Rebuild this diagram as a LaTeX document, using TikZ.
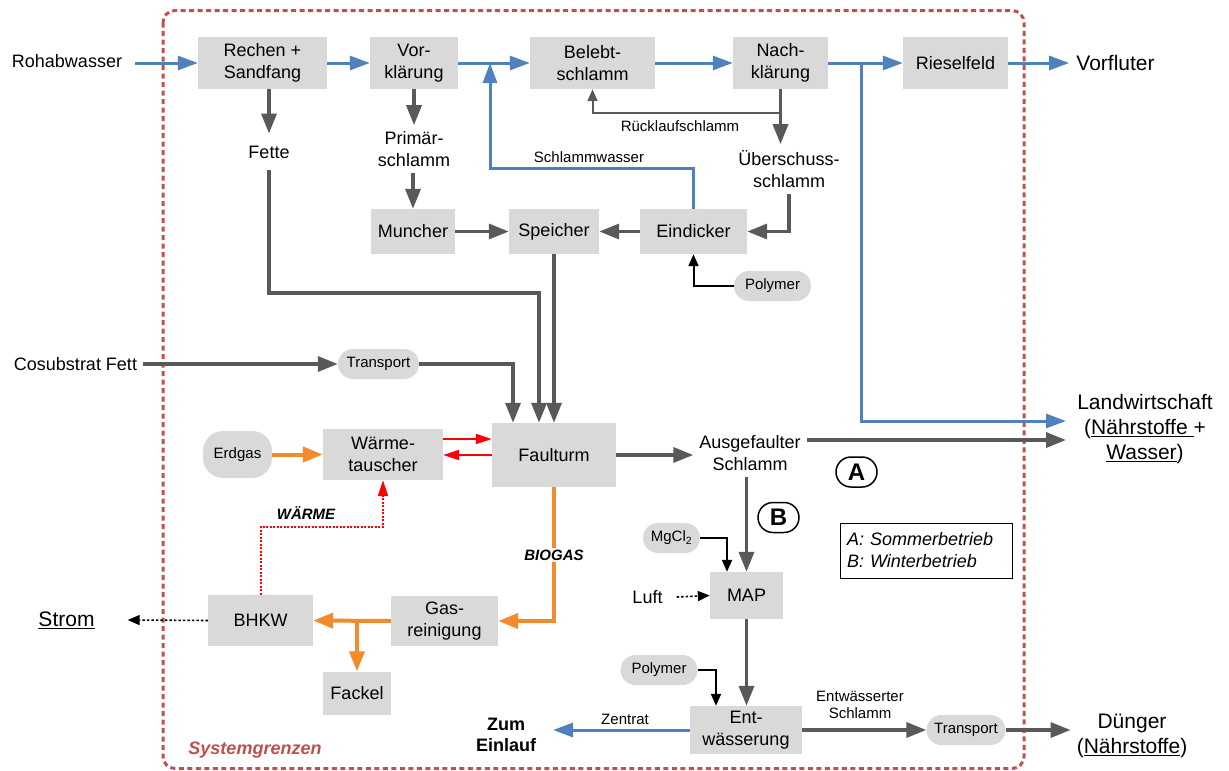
\documentclass[tikz,border=0pt]{standalone}
\usepackage{fontspec}
\setmainfont{Liberation Sans}
\usetikzlibrary{arrows.meta}
\definecolor{boxgray}{HTML}{D9D9D9}
\definecolor{blueline}{HTML}{4F81BD}
\definecolor{grayline}{HTML}{595959}
\definecolor{orangeline}{RGB}{243,139,44}
\definecolor{sysred}{HTML}{C0504D}
\newcommand{\fsz}[2]{\fontsize{#1}{#2}\selectfont}
\begin{document}
\begin{tikzpicture}[x=1pt,y=-1pt,
  box/.style={fill=boxgray, inner sep=0pt, align=center, font=\fsz{18}{22}},
  pill/.style={fill=boxgray, inner sep=0pt, align=center, rounded corners=15pt, minimum height=30pt, font=\fsz{15}{18}},
  wh/.style 2 args={minimum width=#1, minimum height=#2},
  lbl/.style={align=center, inner sep=6pt, font=\fsz{18}{22}},
  big/.style={align=center, inner sep=7pt, font=\fsz{21}{25}},
  small/.style={align=center, inner sep=3pt, font=\fsz{15}{16.5}},
  tag/.style={inner sep=2pt, font=\bfseries\itshape\fsz{15}{18}},
  blueA/.style={draw=blueline, line width=3pt, -{Triangle[length=20pt,width=14pt]}},
  grayA/.style={draw=grayline, line width=3.5pt, -{Triangle[length=20pt,width=15pt]}},
  orA/.style={draw=orangeline, line width=4pt, -{Triangle[length=20pt,width=15pt]}},
  thinA/.style={draw=black, line width=2pt, -{Triangle[length=12pt,width=10pt]}},
  rueckA/.style={draw=grayline, line width=2pt, -{Triangle[length=12pt,width=10pt]}},
  dotA/.style={draw=black, line width=1.6pt, dash pattern=on 2.5pt off 2pt, -{Triangle[length=12pt,width=10pt]}},
  redA/.style={draw=red, line width=2pt, -{Triangle[length=16pt,width=10pt]}},
  circ/.style={draw, line width=1.5pt, rounded corners=15pt, minimum width=41pt, minimum height=30pt, inner sep=0pt, font=\bfseries\fsz{24}{24}}
]
\useasboundingbox (0,0) rectangle (1229,771);

% system boundary
\draw[draw=sysred, line width=3pt, dash pattern=on 5pt off 3.5pt, rounded corners=12pt] (163,10.5) rectangle (1024,768.5);

% process boxes
\node[box, wh={129pt}{52pt}] (rech) at (262.5,63) {Rechen +\\Sandfang};
\node[box, wh={88pt}{52pt}] (vork) at (414,63) {Vor-\\klärung};
\node[box, wh={125pt}{52pt}] (bel) at (592.5,63) {Belebt-\\schlamm};
\node[box, wh={95pt}{52pt}] (nach) at (780.5,63) {Nach-\\klärung};
\node[box, wh={105pt}{52pt}] (ries) at (955.5,63) {Rieselfeld};
\node[box, wh={84pt}{45pt}] (munch) at (413,231.5) {Muncher};
\node[box, wh={90pt}{45pt}] (speich) at (554,231.5) {Speicher};
\node[box, wh={107pt}{45pt}] (eind) at (693.5,231.5) {Eindicker};
\node[box, wh={124pt}{64pt}] (faul) at (554,455) {Faulturm};
\node[box, wh={120pt}{51pt}] (waerm) at (383,454.5) {Wärme-\\tauscher};
\node[box, wh={105pt}{51pt}] (bhkw) at (260.5,620.5) {BHKW};
\node[box, wh={107pt}{50pt}] (gasr) at (444.5,621) {Gas-\\reinigung};
\node[box, wh={68pt}{43pt}] (fack) at (357,693) {Fackel};
\node[box, wh={73pt}{47pt}] (map) at (746.5,595.5) {MAP};
\node[box, wh={112pt}{48pt}] (entw) at (746,730) {Ent-\\wässerung};

% pills
\node[pill, minimum width=77pt] (poly1) at (772.5,286) {Polymer};
\node[pill, minimum width=81pt] (trans1) at (378.5,364) {Transport};
\node[pill, minimum width=69pt, minimum height=47pt, rounded corners=20pt] (erdgas) at (237.5,454.5) {Erdgas};
\node[pill, minimum width=57pt] (mgcl) at (671.5,538) {MgCl\textsubscript{2}};
\node[pill, minimum width=77pt] (poly2) at (659,670) {Polymer};
\node[pill, minimum width=79pt] (trans2) at (966,730) {Transport};

% text labels
\node[lbl] (rohab) at (67,61) {Rohabwasser};
\node[lbl] (fette) at (269,152) {Fette};
\node[lbl] (prim) at (414,149) {Primär-\\schlamm};
\node[lbl] (ueber) at (789,169) {Überschuss-\\schlamm};
\node[lbl] (cosub) at (75.5,364) {Cosubstrat Fett};
\node[lbl] (ausgef) at (750,453) {Ausgefaulter\\Schlamm};
\node[lbl] (luft) at (647.5,597) {Luft};
\node[big] (vorfl) at (1115.5,63) {Vorfluter};
\node[big] (landw) at (1145,429) {Landwirtschaft\\(\underline{Nährstoffe\ }+\\\underline{Wasser})};
\node[big, inner sep=6pt] (duenger) at (1132,736) {Dünger\\(\underline{Nährstoffe})};
\node[big] (strom) at (66.5,620) {\underline{Strom}};
\node[align=center, inner sep=4pt, font=\bfseries\fsz{18}{21}] (zum) at (506,735) {Zum\\Einlauf};
\node[inner sep=2pt, text=sysred, font=\bfseries\itshape\fsz{18}{20}] (sysg) at (255,750) {Systemgrenzen};
\node[small] (rueckl) at (680,126) {Rücklaufschlamm};
\node[small] (schlw) at (589,157) {Schlammwasser};
\node[small] (zentr) at (625,719) {Zentrat};
\node[small] (entwschl) at (860,705) {Entwässerter\\Schlamm};
\node[draw, line width=1pt, text width=158pt, inner xsep=7pt, minimum height=55pt, align=left, font=\itshape\fsz{18}{22}] (leg) at (926,550.5) {A: Sommerbetrieb\\B: Winterbetrieb};
\node[circ] (cA) at (856.5,472) {A};
\node[circ] (cB) at (778.5,517.5) {B};

% helper coordinates
\coordinate (br) at (861,63);
\coordinate (lw1) at (1066,421);
\coordinate (lw2) at (1066,440);
\coordinate (sw1) at (490,168);
\coordinate (sw) at (490,63);
\coordinate (zl) at (553,730);
\coordinate (f1) at (539,293);
\coordinate (t1) at (513,364);
\coordinate (rl) at (780.5,113);
\coordinate (wm) at (383,527);

% blue water flows
\draw[blueA] ([xshift=7pt]rohab.east |- rech.west) -- (rech.west);
\draw[blueA] (rech.east) -- (vork.west);
\draw[blueA] (vork.east) -- (bel.west);
\draw[blueA] (bel.east) -- (nach.west);
\draw[blueA] (nach.east) -- (ries.west);
\draw[blueA] (ries.east) -- (vorfl.west);
\draw[blueA] (br) |- (lw1);
\draw[blueA] (eind.north) |- (sw1) -- (sw);
\draw[blueA] (entw.west) -- (zl);

% gray sludge flows
\draw[grayA] (rech.south -| fette.north) -- ([yshift=6pt]fette.north);
\draw[grayA] ([yshift=-6pt]fette.south) |- (f1) -- (f1 |- faul.north);
\draw[grayA] (vork.south) -- (prim.north);
\draw[grayA] (prim.south -| munch.north) -- (munch.north);
\draw[grayA] (munch.east) -- (speich.west);
\draw[grayA] (eind.west) -- (speich.east);
\draw[grayA] (speich.south) -- (faul.north);
\draw[grayA] (nach.south) -- (nach.south |- ueber.north);
\draw[grayA] (ueber.south) |- (eind.east);
\draw[grayA] (cosub.east) -- (trans1.west);
\draw[grayA] (trans1.east) -- (t1) -- (t1 |- faul.north);
\draw[grayA] (faul.east) -- (faul.east -| ausgef.west);
\draw[grayA] (ausgef.east |- lw2) -- (lw2);
\draw[grayA] (ausgef.south -| map.north) -- (map.north);
\draw[grayA] (map.south) -- (map.south |- entw.north);
\draw[grayA] (entw.east) -- (entw.east -| trans2.west);
\draw[grayA] (trans2.east) -- (trans2.east -| duenger.west);
\draw[rueckA] (rl) -| (bel.south);

% additives
\draw[thinA] (poly1.west) -| (eind.south);
\draw[thinA] (mgcl.east) -| ([xshift=-19.5pt]map.north);
\draw[thinA] (poly2.east) -| ([xshift=-30pt]entw.north);
\draw[dotA] ([xshift=8pt]luft.east) -- (map.west);
\draw[dotA] (bhkw.west) -- ([xshift=26pt]strom.east);

% gas
\draw[orA] (erdgas.east) -- (waerm.west);
\draw[orA] (faul.south) |- (gasr.east);
\draw[orA] (gasr.west) -- (bhkw.east);
\draw[orA] (fack.north |- gasr.west) -- (fack.north);

% heat
\draw[redA] ([yshift=15.5pt]waerm.east) -- ([yshift=15.5pt]waerm.east -| faul.west);
\draw[redA] (faul.west) -- (faul.west -| waerm.east);
\draw[redA, dash pattern=on 2pt off 1.5pt] (bhkw.north) |- (wm) -- (waerm.south);

% flow tags
\node[tag, fill=white] (biogas) at (554,555) {BIOGAS};
\node[tag] (waermetag) at (306,513) {WÄRME};
\end{tikzpicture}
\end{document}
